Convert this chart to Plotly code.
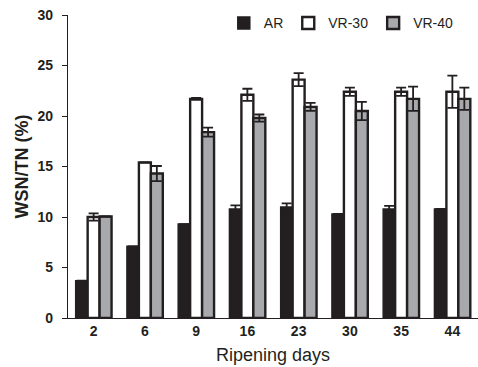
import plotly.graph_objects as go

days = ["2", "6", "9", "16", "23", "30", "35", "44"]
ar = [3.7, 7.1, 9.3, 10.8, 11.0, 10.3, 10.8, 10.8]
ar_err = [0, 0, 0, 0.35, 0.35, 0, 0.3, 0]
vr30 = [10.0, 15.4, 21.7, 22.1, 23.6, 22.4, 22.4, 22.4]
vr30_err = [0.35, 0, 0.1, 0.6, 0.65, 0.4, 0.4, 1.6]
vr40 = [10.05, 14.3, 18.4, 19.8, 20.9, 20.5, 21.7, 21.7]
vr40_err = [0, 0.75, 0.45, 0.35, 0.4, 0.9, 1.2, 1.1]
y_ticks = [0, 5, 10, 15, 20, 25, 30]

DARK = "#231f20"
GRAY = "#a7a9ac"
FONT = "Liberation Sans"

def eb(arr):
    return dict(type="data", array=arr, visible=True, color=DARK, thickness=1.8, width=5)

fig = go.Figure()
fig.add_trace(go.Bar(name="AR", x=days, y=ar, error_y=eb(ar_err),
                     marker=dict(color=DARK, line=dict(color=DARK, width=1.5))))
fig.add_trace(go.Bar(name="VR-30", x=days, y=vr30, error_y=eb(vr30_err),
                     marker=dict(color="white", line=dict(color=DARK, width=2.4))))
fig.add_trace(go.Bar(name="VR-40", x=days, y=vr40, error_y=eb(vr40_err),
                     marker=dict(color=GRAY, line=dict(color=DARK, width=2.4))))

fig.update_layout(
    width=478, height=367,
    margin=dict(l=68, r=0, t=15, b=49),
    paper_bgcolor="white", plot_bgcolor="white",
    barmode="group", bargap=0.3, bargroupgap=0,
    font=dict(family=FONT, color=DARK, size=14),
    showlegend=True,
    legend=dict(orientation="h", x=0.38, y=1.025, xanchor="left", yanchor="top",
                font=dict(family=FONT, size=14, color=DARK),
                itemwidth=30, bgcolor="rgba(0,0,0,0)", traceorder="normal"),
    xaxis=dict(showline=True, linecolor=DARK, linewidth=1.2, ticks="",
               tickfont=dict(family=FONT, size=14, color=DARK, weight="bold"),
               title=dict(text="Ripening days", font=dict(family=FONT, size=18, color=DARK), standoff=10),
               showgrid=False, zeroline=False),
    yaxis=dict(range=[0, 30], tickvals=y_ticks, showline=True, linecolor=DARK, linewidth=1.2,
               ticks="outside", ticklen=5, tickcolor=DARK, tickwidth=1.2, ticklabelstandoff=6,
               tickfont=dict(family=FONT, size=14, color=DARK, weight="bold"),
               title=dict(text="WSN/TN (%)", font=dict(family=FONT, size=18, color=DARK, weight="bold"), standoff=4),
               showgrid=False, zeroline=False),
)

fig.write_html("out.html", config={"displayModeBar": False},
               post_script="document.body.style.margin='0';document.body.style.overflow='hidden';")
